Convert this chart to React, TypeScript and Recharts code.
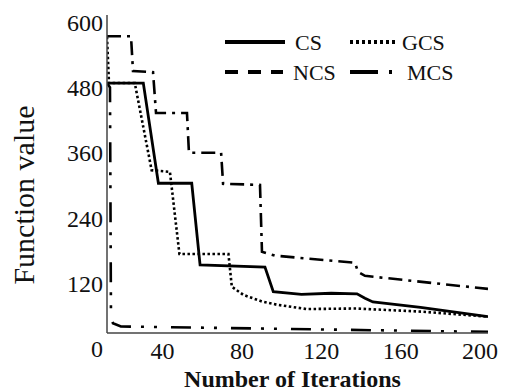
import React from 'react';
import { LineChart, Line, XAxis, YAxis, Legend, Label } from 'recharts';

// ---- data ----
const xTicks = [40, 80, 120, 160, 200];
const yTicks = [0, 120, 240, 360, 480, 600];
const xDomain = [12, 204];
const yDomain = [29, 613];

const csData = [
  { x: 12, y: 488 }, { x: 30.3, y: 488 }, { x: 37.9, y: 304 }, { x: 54.7, y: 304 },
  { x: 58.9, y: 154 }, { x: 91.6, y: 150 }, { x: 95.8, y: 105 }, { x: 110, y: 100 },
  { x: 125, y: 102 }, { x: 138, y: 101 }, { x: 142, y: 93 }, { x: 146, y: 86 },
  { x: 170, y: 76 }, { x: 204, y: 59 },
];

const gcsData = [
  { x: 12, y: 573 }, { x: 13, y: 488 }, { x: 26, y: 488 }, { x: 34.5, y: 328 },
  { x: 43.7, y: 325 }, { x: 48.5, y: 174 }, { x: 73.2, y: 174 }, { x: 74.9, y: 114 },
  { x: 80.7, y: 99 }, { x: 90, y: 87 }, { x: 97.5, y: 81 }, { x: 112.6, y: 73 },
  { x: 137.8, y: 74 }, { x: 171.4, y: 68 }, { x: 204, y: 59 },
];

const ncsData = [
  { x: 12, y: 574 }, { x: 24.1, y: 574 }, { x: 25.1, y: 510 }, { x: 35.2, y: 508 },
  { x: 36.7, y: 433 }, { x: 52.3, y: 433 }, { x: 53.3, y: 360 }, { x: 69.5, y: 360 },
  { x: 70.5, y: 303 }, { x: 89.1, y: 301 }, { x: 90.1, y: 178 }, { x: 96.7, y: 171 },
  { x: 137, y: 158 }, { x: 138.5, y: 141 }, { x: 142, y: 134 }, { x: 204, y: 110 },
];

const mcsData = [
  { x: 12, y: 488 }, { x: 13.5, y: 480 }, { x: 14, y: 60 }, { x: 15, y: 47 },
  { x: 19, y: 41 }, { x: 204, y: 31 },
];

const seriesNames = ['CS', 'GCS', 'NCS', 'MCS'];

// ---- styles ----
const FONT = '"Liberation Serif", "Times New Roman", serif';
const INK = '#111';
const BORDER = '#444';

const seriesStyle: Record<string, { width: number; dash?: string }> = {
  CS: { width: 2.8 },
  GCS: { width: 2.6, dash: '2.5 2.5' },
  NCS: { width: 2.6, dash: '14 6 3 6' },
  MCS: { width: 2.6, dash: '20 10 3 10 3 14' },
};

const legendStyle: Record<string, { x: number; y: number; len: number; textX: number; dash?: string }> = {
  CS: { x: 0, y: 15, len: 60, textX: 70 },
  GCS: { x: 125, y: 15, len: 48, textX: 177, dash: '3 3' },
  NCS: { x: 0, y: 45, len: 58, textX: 68, dash: '13 10' },
  MCS: { x: 125, y: 45, len: 42, textX: 182, dash: '28 11 3 20' },
};

const LegendContent = () => (
  <svg width={240} height={60} style={{ display: 'block' }}>
    {seriesNames.map((n) => {
      const s = legendStyle[n];
      return (
        <g key={n}>
          <line x1={s.x} x2={s.x + s.len} y1={s.y} y2={s.y} stroke="#000" strokeWidth={4} strokeDasharray={s.dash} />
          <text x={s.textX} y={s.y} dominantBaseline="central" style={{ fontFamily: FONT }} fontSize={22} fill={INK}>{n}</text>
        </g>
      );
    })}
  </svg>
);

const YTitle = (props: any) => {
  const vb = props.viewBox || { x: 0, y: 7, width: 99, height: 318 };
  const cx = vb.x + 15;
  const cy = vb.y + vb.height / 2 + 21;
  return (
    <text x={cx} y={cy} transform={`rotate(-90 ${cx} ${cy})`} textAnchor="middle" dominantBaseline="central"
      style={{ fontFamily: FONT }} fontSize={30} fill={INK}>Function value</text>
  );
};

const XTitle = (props: any) => {
  const vb = props.viewBox || { x: 99, y: 325, width: 381, height: 59 };
  const cx = vb.x + vb.width / 2 - 5;
  const cy = vb.y + vb.height - 5;
  return (
    <text x={cx} y={cy} textAnchor="middle" style={{ fontFamily: FONT }} fontSize={24} fontWeight="bold" fill={INK}>Number of Iterations</text>
  );
};

const XTick = (props: any) => {
  const { x, y, payload } = props;
  return (
    <text x={x} y={y} dy={17} textAnchor="middle" style={{ fontFamily: FONT }} fontSize={24} fill={INK}>{payload.value}</text>
  );
};

const YTick = (props: any) => {
  const { x, y, payload } = props;
  return (
    <text x={x} y={y} dy={8.5} textAnchor="end" style={{ fontFamily: FONT }} fontSize={24} fill={INK}>{payload.value}</text>
  );
};

export default function App() {
  const all = { CS: csData, GCS: gcsData, NCS: ncsData, MCS: mcsData } as Record<string, { x: number; y: number }[]>;
  return (
    <div style={{ fontFamily: FONT, width: 502, height: 384 }}>
      <LineChart width={502} height={384} margin={{ top: 7, right: 22, bottom: 0, left: 0 }} style={{ fontFamily: FONT }}>
        <XAxis type="number" dataKey="x" domain={xDomain} allowDataOverflow ticks={xTicks} interval={0}
          tickLine={false} tickSize={0} tickMargin={9} height={59} tick={<XTick />}
          axisLine={{ stroke: BORDER, strokeWidth: 1.5 }}>
          <Label content={XTitle} />
        </XAxis>
        <XAxis xAxisId="top" orientation="top" type="number" domain={xDomain} allowDataOverflow height={0}
          tick={false} tickLine={false} axisLine={{ stroke: BORDER, strokeWidth: 1.5 }} />
        <YAxis type="number" domain={yDomain} allowDataOverflow ticks={yTicks} interval={0} width={99}
          tickLine={false} tickSize={0} tickMargin={4} tick={<YTick />}
          axisLine={{ stroke: BORDER, strokeWidth: 1.5 }}>
          <Label content={YTitle} />
        </YAxis>
        <YAxis yAxisId="right" orientation="right" type="number" domain={yDomain} allowDataOverflow width={0}
          tick={false} tickLine={false} axisLine={{ stroke: BORDER, strokeWidth: 1.5 }} />
        <Legend layout="horizontal" verticalAlign="middle" align="center" content={LegendContent}
          wrapperStyle={{ left: 217, top: 19, width: 240, height: 60 }} />
        {seriesNames.map((n) => (
          <Line key={n} name={n} data={all[n]} dataKey="y" type="linear" stroke="#000"
            strokeWidth={seriesStyle[n].width} strokeDasharray={seriesStyle[n].dash}
            dot={false} activeDot={false} isAnimationActive={false} />
        ))}
      </LineChart>
    </div>
  );
}
